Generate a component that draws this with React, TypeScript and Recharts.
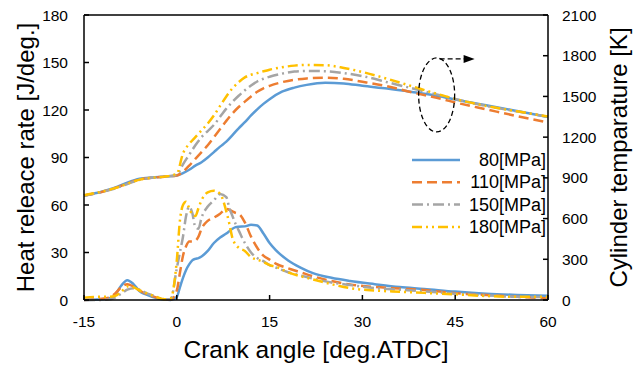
import { Label, Legend, Line, LineChart, ReferenceDot, ReferenceLine, XAxis, YAxis } from "recharts";

// heat release rate [J/deg.] vs crank angle
const hrrAngles = [-15, -13, -11, -10, -9, -8, -7, -6, -5, -4, -3, -2, -1, 0, 0.5, 1, 1.5, 2, 2.5, 3, 3.5, 4, 5, 6, 7, 8, 8.5, 9, 9.5, 10, 11, 12, 13, 14, 15, 16, 18, 20, 22, 25, 28, 32, 36, 40, 45, 50, 55, 60];
const hrr80 = [0, 0.3, 1, 3, 9, 12.5, 10, 5.5, 3.5, 2, 1, 0.3, 0, 2, 8, 14, 19, 22.5, 25, 26, 26.5, 27.5, 31, 36, 39.5, 42, 43.5, 45, 46, 46.3, 46.5, 47.5, 47, 42, 36, 31.5, 25, 20.5, 17, 14, 12, 10, 8.2, 7, 5.3, 4, 3.2, 2.7];
const hrr110 = [0, 0.5, 1.5, 4, 8, 10, 8.5, 6, 4, 2.5, 1.2, 0.5, 0.3, 6, 17, 28, 34, 37, 37, 37.5, 40, 45, 50, 52, 54.5, 57.5, 57, 56, 55, 54.5, 49, 40, 33, 28, 25.5, 23, 20, 17.5, 15, 12, 9.8, 8.2, 7.2, 6.3, 4.3, 3.2, 2, 1];
const hrr150 = [0, 0, 0.3, 1.5, 4, 6.5, 7.5, 6.5, 4.5, 3, 1.5, 0.5, 0.5, 20, 30, 40, 53, 59, 55, 46, 45, 52, 59, 63, 67, 65, 58, 53, 48, 44, 36, 30, 26.5, 24.5, 22, 20.5, 17.5, 15.5, 13.5, 11, 9.5, 7.5, 6.5, 5.5, 4, 3, 2, 1.8];
const hrr180 = [1.5, 2, 2, 2.5, 5, 8.5, 8, 6, 4.5, 3, 1.5, 0.5, 1, 25, 50, 60, 62, 58, 54, 53, 58, 63, 68, 69, 67, 56, 48, 39, 35, 33, 31, 27, 25.5, 24, 22, 21, 17.5, 15, 13, 10, 7.5, 6, 5.2, 4.5, 3.6, 2.5, 2, 2];

// cylinder temperature [K] vs crank angle
const tempAngles = [-15, -12, -10, -8, -6, -4, -2, 0, 1, 2, 3, 4, 5, 6, 7, 8, 9, 10, 11, 12, 13, 14, 15, 17, 19, 21, 24, 27, 30, 34, 38, 42, 46, 50, 55, 60];
const temp80 = [770, 800, 828, 865, 893, 903, 910, 918, 935, 960, 990, 1015, 1050, 1090, 1130, 1167, 1215, 1265, 1310, 1360, 1405, 1445, 1480, 1535, 1565, 1585, 1600, 1596, 1578, 1558, 1533, 1505, 1468, 1435, 1392, 1348];
const temp110 = [770, 798, 825, 858, 888, 901, 909, 918, 945, 990, 1040, 1090, 1140, 1200, 1260, 1320, 1375, 1422, 1462, 1500, 1535, 1560, 1578, 1605, 1623, 1633, 1638, 1630, 1608, 1575, 1530, 1490, 1445, 1405, 1355, 1308];
const temp150 = [768, 798, 822, 855, 886, 900, 908, 922, 1000, 1070, 1140, 1200, 1245, 1290, 1350, 1410, 1460, 1505, 1545, 1580, 1610, 1630, 1645, 1668, 1683, 1688, 1686, 1672, 1650, 1605, 1560, 1515, 1470, 1430, 1390, 1350];
const temp180 = [772, 800, 824, 856, 887, 901, 909, 930, 1080, 1150, 1200, 1250, 1300, 1360, 1430, 1500, 1560, 1605, 1640, 1660, 1672, 1685, 1697, 1715, 1727, 1732, 1730, 1710, 1680, 1630, 1575, 1520, 1470, 1430, 1390, 1352];

const xTicks = [-15, 0, 15, 30, 45, 60];
const hrrTicks = [0, 30, 60, 90, 120, 150, 180];
const tempTicks = [0, 300, 600, 900, 1200, 1500, 1800, 2100];

const series = [
  { name: "80[MPa]", color: "#5B9BD5", dash: undefined, hrr: hrr80, temp: temp80 },
  { name: "110[MPa]", color: "#ED7D31", dash: "10 5", hrr: hrr110, temp: temp110 },
  { name: "150[MPa]", color: "#A5A5A5", dash: "11 4 2 4", hrr: hrr150, temp: temp150 },
  { name: "180[MPa]", color: "#FFC000", dash: "10 4 2 4 2 4", hrr: hrr180, temp: temp180 },
];

const font = "'Liberation Sans', Arial, sans-serif";

const toRows = (xs: number[], ys: number[]) => xs.map((x, i) => ({ x, y: ys[i] }));

function LegendBox() {
  return (
    <svg width={145} height={95} style={{ fontFamily: font }}>
      {series.map((s, i) => (
        <g key={s.name}>
          <line x1={2} x2={50} y1={10 + i * 22.3} y2={10 + i * 22.3} stroke={s.color} strokeWidth={2.5} strokeDasharray={s.dash} />
          <text x={136} y={10 + i * 22.3} textAnchor="end" dominantBaseline="central" fontSize={18} fill="#000">
            {s.name}
          </text>
        </g>
      ))}
    </svg>
  );
}

function Ellipse({ cx, cy }: { cx?: number; cy?: number }) {
  if (cx == null || cy == null) return null;
  return (
    <g>
      <ellipse cx={cx} cy={cy} rx={18} ry={37} fill="none" stroke="#000" strokeWidth={1.3} strokeDasharray="5 3" />
      <line x1={cx + 3} x2={cx + 28} y1={cy - 36} y2={cy - 36} stroke="#000" strokeWidth={1.3} strokeDasharray="5 3" />
      <path d={`M${cx + 27},${cy - 40} L${cx + 38},${cy - 36} L${cx + 27},${cy - 32} Z`} fill="#000" />
    </g>
  );
}

function VTitle({ viewBox, text, dx }: any) {
  const vb = viewBox || { x: 0, y: 15, width: 84, height: 285 };
  const x = vb.x + dx;
  const y = vb.y + vb.height / 2;
  return (
    <text x={x} y={y} transform={`rotate(-90 ${x} ${y})`} textAnchor="middle" dominantBaseline="central" fontSize={24} fontFamily={font} fill="#000">
      {text}
    </text>
  );
}

export default function App() {
  const tick = { fontSize: 15.5, fill: "#000", fontFamily: font };
  return (
    <div style={{ position: "absolute", left: 0, top: 0, background: "#fff" }}>
      <LineChart width={643} height={365} margin={{ top: 15, right: 0, bottom: 0, left: 0 }}>
        <XAxis
          dataKey="x"
          type="number"
          domain={[-15, 60]}
          ticks={xTicks}
          allowDuplicatedCategory={false}
          height={65}
          tickSize={-5}
          tickMargin={21}
          tick={tick}
          axisLine={{ stroke: "#000", strokeWidth: 1.5 }}
          tickLine={{ stroke: "#000", strokeWidth: 1.5 }}
        >
          <Label
            content={({ viewBox }: any) => {
              const vb = viewBox || { x: 84, y: 300, width: 464, height: 65 };
              return (
                <text x={vb.x + vb.width / 2} y={vb.y + 49} textAnchor="middle" dominantBaseline="central" fontSize={24.5} fontFamily={font} fill="#000">
                  Crank angle [deg.ATDC]
                </text>
              );
            }}
          />
        </XAxis>
        <YAxis
          yAxisId="hrr"
          orientation="left"
          domain={[0, 180]}
          ticks={hrrTicks}
          width={84}
          tickSize={-5}
          tickMargin={21}
          tick={tick}
          axisLine={{ stroke: "#000", strokeWidth: 1.5 }}
          tickLine={{ stroke: "#000", strokeWidth: 1.5 }}
        >
          <Label content={(p: any) => <VTitle viewBox={p.viewBox} text="Heat releace rate [J/deg.]" dx={25} />} />
        </YAxis>
        <YAxis
          yAxisId="temp"
          orientation="right"
          domain={[0, 2100]}
          ticks={tempTicks}
          width={95}
          tickSize={-5}
          tickMargin={19}
          tick={{ ...tick, textAnchor: "start" }}
          axisLine={{ stroke: "#000", strokeWidth: 1.5 }}
          tickLine={{ stroke: "#000", strokeWidth: 1.5 }}
        >
          <Label content={(p: any) => <VTitle viewBox={p.viewBox} text="Cylinder temparature [K]" dx={70} />} />
        </YAxis>
        <ReferenceLine yAxisId="hrr" y={180} stroke="#000" strokeWidth={1.5} />
        {series.map((s) => (
          <Line
            key={"t" + s.name}
            data={toRows(tempAngles, s.temp)}
            dataKey="y"
            yAxisId="temp"
            type="monotone"
            stroke={s.color}
            strokeWidth={2.5}
            strokeDasharray={s.dash}
            dot={false}
            isAnimationActive={false}
            legendType="none"
          />
        ))}
        {series.map((s) => (
          <Line
            key={"h" + s.name}
            data={toRows(hrrAngles, s.hrr)}
            dataKey="y"
            yAxisId="hrr"
            type="monotone"
            stroke={s.color}
            strokeWidth={2.5}
            strokeDasharray={s.dash}
            dot={false}
            isAnimationActive={false}
            legendType="none"
          />
        ))}
        <ReferenceDot yAxisId="hrr" x={42} y={129.5} shape={(p: any) => <Ellipse cx={p.cx} cy={p.cy} />} />
        <Legend
          layout="horizontal"
          verticalAlign="middle"
          align="center"
          content={() => <LegendBox />}
          wrapperStyle={{ position: "absolute", left: 410, top: 150, width: 145, height: 95 }}
        />
      </LineChart>
    </div>
  );
}
